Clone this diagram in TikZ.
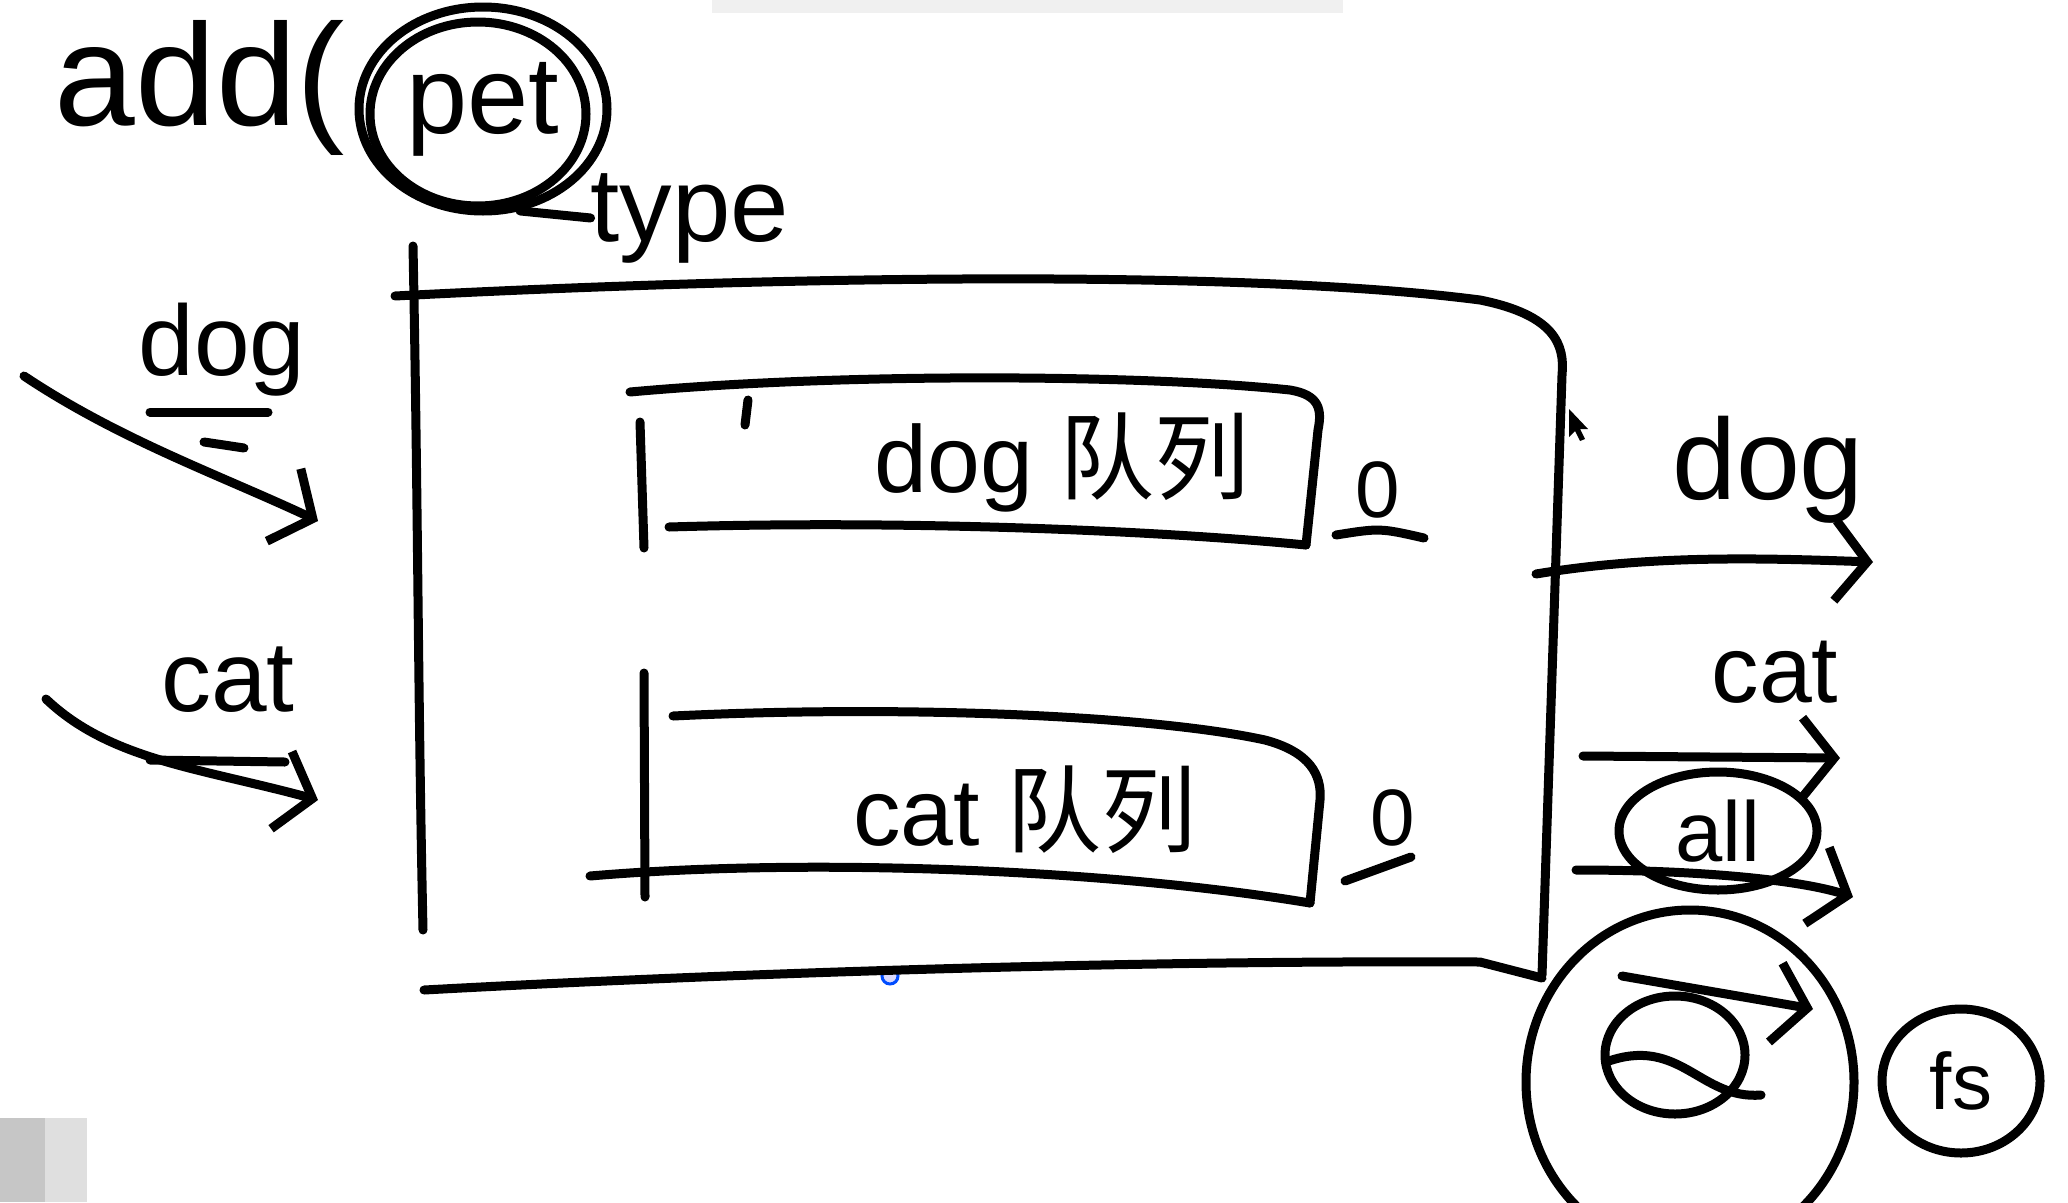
\documentclass[tikz,border=0pt]{standalone}
\usepackage{fontspec}
\setmainfont{Liberation Sans}
\newfontfamily\cjk{Noto Sans CJK SC}
\usetikzlibrary{arrows.meta,shapes.geometric}
\tikzset{
  pen/.style={line width=9pt, line cap=round, line join=round},
  hand/.style={inner sep=0pt, anchor=center},
  chev/.style={-{Straight Barb[length=32pt,width=80pt]}},
  ring/.style={draw, pen, ellipse, inner sep=0pt}
}
\begin{document}
\begin{tikzpicture}[x=1pt,y=-1pt]
\useasboundingbox (0,0) rectangle (2068,1202);
\fill[white] (0,0) rectangle (2068,1202);

% screen artefacts
\fill[gray!12] (712,0) rectangle (1343,13);
\fill[gray!45] (0,1118) rectangle (87,1202);
\fill[gray!25] (45,1118) rectangle (87,1202);
\fill[black] (1569,409) -- (1569,437) -- (1575,431) -- (1580,441) -- (1585,439) -- (1580,429) -- (1588,429) -- cycle;
\draw[blue!70!cyan, line width=3pt, fill=blue!15] (890,976) circle (8);

% add(pet) -> type
\node[hand, font=\fontsize{145}{145}\selectfont] (add) at (200,88) {add(};
\node[ring, minimum width=248, minimum height=204, font=\fontsize{110}{110}\selectfont] (pet) at (483,109) {pet};
\draw[pen] (478,114) ellipse [x radius=108, y radius=92];
\node[hand, font=\fontsize{105}{105}\selectfont] (type) at (690,218) {type};
\draw[pen] (pet.-70) -- (type.west);

% inputs
\node[hand, font=\fontsize{100}{100}\selectfont] (dogin) at (222,350) {dog};
\draw[pen] (150,412) -- (268,412);
\draw[pen] (204,442) -- (244,448);
\coordinate (dogsrc) at (24,376);
\coordinate (dogtip) at (318,521);
\draw[pen, chev] (dogsrc) .. controls (120,440) and (220,475) .. (dogtip);

\node[hand, font=\fontsize{100}{100}\selectfont] (catin) at (228,680) {cat};
\draw[pen] (150,760) -- (285,762);
\coordinate (catsrc) at (46,699);
\coordinate (cattip) at (318,800);
\draw[pen, chev] (catsrc) .. controls (110,760) and (200,768) .. (cattip);

% big box
\draw[pen] (413,246) .. controls (418,500) and (418,700) .. (423,930);
\draw[pen] (395,296) .. controls (800,275) and (1250,270) .. (1480,300) .. controls (1555,315) and (1565,345) .. (1562,375) -- (1542,975);
\draw[pen] (424,990) .. controls (700,975) and (1100,960) .. (1480,962) -- (1542,978);

% dog queue
\draw[pen] (630,392) .. controls (850,372) and (1150,375) .. (1290,390) .. controls (1320,395) and (1322,410) .. (1318,430) -- (1306,545);
\draw[pen] (669,527) .. controls (900,520) and (1150,530) .. (1306,545);
\draw[pen] (640,422) -- (644,548);
\draw[pen] (748,400) -- (745,425);
\node[hand, font=\fontsize{95}{95}\selectfont] (dogq) at (1062,462) {dog {\cjk 队列}};
\node[hand, font=\fontsize{80}{80}\selectfont] (z1) at (1378,490) {0};
\draw[pen] (1336,535) .. controls (1380,528) .. (1424,538);

% cat queue
\draw[pen] (673,716) .. controls (900,705) and (1150,715) .. (1265,740) .. controls (1310,752) and (1322,775) .. (1320,800) -- (1310,903);
\draw[pen] (590,876) .. controls (800,858) and (1100,868) .. (1310,903);
\draw[pen] (644,673) -- (645,897);
\node[hand, font=\fontsize{95}{95}\selectfont] (catq) at (1025,810) {cat {\cjk 队列}};
\node[hand, font=\fontsize{80}{80}\selectfont] (z2) at (1393,818) {0};
\draw[pen] (1345,881) -- (1411,857);

% outputs
\node[hand, font=\fontsize{115}{115}\selectfont] (dogout) at (1768,470) {dog};
\coordinate (o1s) at (1536,574);
\coordinate (o1e) at (1873,562);
\draw[pen, chev] (o1s) .. controls (1650,555) and (1760,558) .. (o1e);

\node[hand, font=\fontsize{95}{95}\selectfont] (catout) at (1775,672) {cat};
\coordinate (o2s) at (1583,756);
\coordinate (o2e) at (1840,758);
\draw[pen, chev] (o2s) -- (o2e);

\node[ring, minimum width=198, minimum height=118, font=\fontsize{85}{85}\selectfont] (all) at (1718,831) {all};
\coordinate (o3s) at (1576,870);
\coordinate (o3e) at (1853,897);
\draw[pen, chev] (o3s) .. controls (1700,870) and (1800,880) .. (o3e);

\node[ring, minimum width=328, minimum height=344] (qbig) at (1690,1082) {};
\node[ring, minimum width=140, minimum height=118] (qsmall) at (1675,1055) {};
\coordinate (o4s) at (1622,976);
\coordinate (o4e) at (1813,1009);
\draw[pen, chev] (o4s) -- (o4e);
\draw[pen] (1606,1062) .. controls (1680,1035) and (1700,1100) .. (1761,1095);

\node[ring, minimum width=158, minimum height=144, font=\fontsize{80}{80}\selectfont] (fs) at (1961,1081) {fs};
\end{tikzpicture}
\end{document}
